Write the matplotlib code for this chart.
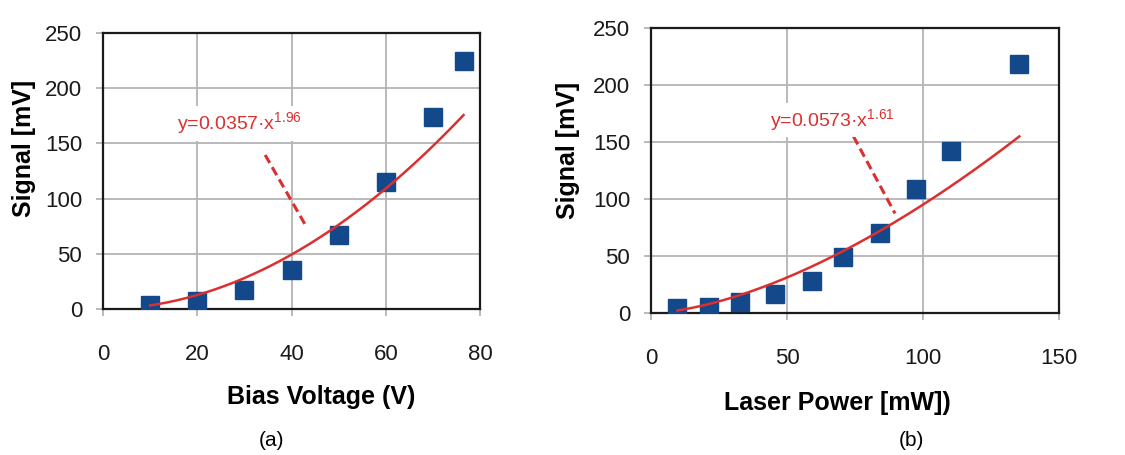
import matplotlib
matplotlib.use("Agg")
import matplotlib.pyplot as plt
import numpy as np

# ---- data ----
bias_voltage = [10, 20, 30, 40, 50, 60, 70, 76.5]
signal_a = [4, 7, 17, 35, 67, 115, 174, 225]
fit_a = (0.0357, 1.96)          # y = a * x^b
fit_a_range = (10, 76.5)

laser_power = [9.7, 21.3, 32.7, 45.6, 59.3, 70.4, 84.3, 97.4, 110.2, 135.4]
signal_b = [4, 5, 10, 17, 28, 49, 70, 109, 142, 218]
fit_b = (0.0573, 1.61)
fit_b_range = (9.7, 135.4)

xticks_a = [0, 20, 40, 60, 80]
xticks_b = [0, 50, 100, 150]
yticks = [0, 50, 100, 150, 200, 250]

label_eq_a = "y=0.0357·x$^{1.96}$"
label_eq_b = "y=0.0573·x$^{1.61}$"

plt.rcParams['font.family'] = ['Liberation Sans', 'DejaVu Sans']
plt.rcParams['mathtext.default'] = 'regular'

MARKER = '#13498a'
RED = '#dc2f2f'
GRID = '#b4b4b4'

fig = plt.figure(figsize=(11.25, 4.55), dpi=100)
fig.patch.set_facecolor('white')

ax_a = fig.add_axes([0.0916, 0.3209, 0.3351, 0.6066])
ax_b = fig.add_axes([0.5787, 0.3121, 0.3627, 0.6264])


def style(ax, xlim, xticks):
    ax.set_xlim(*xlim)
    ax.set_ylim(0, 250)
    ax.set_xticks(xticks)
    ax.set_yticks(yticks)
    ax.grid(True, color=GRID, linewidth=1.3, zorder=0)
    ax.set_axisbelow(True)
    for s in ax.spines.values():
        s.set_color('#1a1a1a')
        s.set_linewidth(1.6)
    ax.tick_params(axis='both', direction='out', length=5, color=GRID,
                   width=1.3, labelsize=16, labelcolor='#1a1a1a')
    ax.tick_params(axis='x', pad=20)
    ax.tick_params(axis='y', pad=10)


def draw(ax, xs, ys, fit, rng, eq, eq_xy, lead):
    ax.plot(xs, ys, linestyle='none', marker='s', markersize=12.5,
            color=MARKER, zorder=3)
    xf = np.linspace(rng[0], rng[1], 200)
    ax.plot(xf, fit[0] * xf ** fit[1], color=RED, linewidth=1.8, zorder=4)
    ax.plot([lead[0][0], lead[1][0]], [lead[0][1], lead[1][1]], color=RED,
            linestyle=(0, (3, 1.6)), linewidth=2.2, zorder=4)
    ax.text(eq_xy[0], eq_xy[1], eq, color=RED, fontsize=14,
            ha='center', va='center', zorder=5,
            bbox=dict(facecolor='white', edgecolor='none', pad=3))


style(ax_a, (0, 80), xticks_a)
style(ax_b, (0, 150), xticks_b)

draw(ax_a, bias_voltage, signal_a, fit_a, fit_a_range, label_eq_a,
     (29, 168), ((34.4, 139.5), (43.3, 73.4)))
draw(ax_b, laser_power, signal_b, fit_b, fit_b_range, label_eq_b,
     (66.5, 169), ((74.4, 155), (89.7, 87.3)))

ax_a.set_xlabel("Bias Voltage (V)", fontsize=18, fontweight='bold', va='center')
ax_a.xaxis.set_label_coords(0.578, -0.319)
ax_a.set_ylabel("Signal [mV]", fontsize=18, fontweight='bold', va='center')
ax_a.yaxis.set_label_coords(-0.21, 0.583)

ax_b.set_xlabel("Laser Power [mW])", fontsize=18, fontweight='bold', va='center')
ax_b.xaxis.set_label_coords(0.456, -0.316)
ax_b.set_ylabel("Signal [mV]", fontsize=18, fontweight='bold', va='center')
ax_b.yaxis.set_label_coords(-0.203, 0.572)

fig.text(272 / 1125, 1 - 441 / 455, "(a)", fontsize=15, ha='center', va='center')
fig.text(911 / 1125, 1 - 441 / 455, "(b)", fontsize=15, ha='center', va='center')

fig.savefig("out.png", dpi=100, facecolor='white')
